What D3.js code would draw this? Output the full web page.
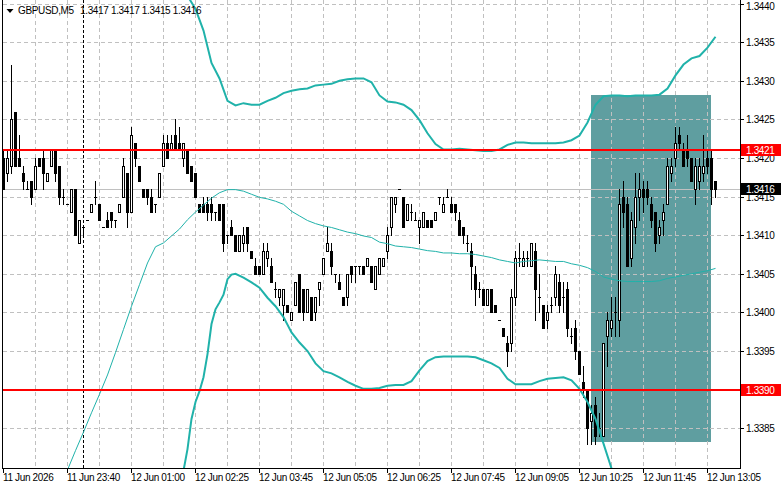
<!DOCTYPE html>
<html>
<head>
<meta charset="utf-8">
<script src="https://d3js.org/d3.v7.min.js"></script>
<style>
  body { margin: 0; background: #ffffff; }
  svg text { font-family: "Liberation Sans", Arial, sans-serif; }
</style>
</head>
<body>
<script>
// GBPUSD M5 candles, one entry per bar (bar 0 = first bar on the chart)
var opens = [
  1.3420,1.3418,1.3419,1.3426,1.3420,1.3418,1.3416,1.3417,1.3416,1.3420,
  1.3420,1.3417,1.3419,1.3421,1.3419,1.3415,1.3414,1.3413,1.3416,1.3409,
  1.3411,1.3412,1.3413,1.3415,1.3414,1.3411,1.3412,1.3413,1.3412,1.3413,
  1.3415,1.3418,1.3413,1.3422,1.3419,1.3416,1.3416,1.3415,1.3414,1.3415,
  1.3419,1.3422,1.3421,1.3423,1.3422,1.3420,1.3421,1.3419,1.3418,1.3414,
  1.3414,1.3414,1.3414,1.3413,1.3414,1.3414,1.3410,1.3411,1.3410,1.3408,
  1.3409,1.3411,1.3408,1.3406,1.3406,1.3405,1.3407,1.3406,1.3403,1.3402,
  1.3401,1.3401,1.3399,1.3401,1.3405,1.3403,1.3400,1.3402,1.3400,1.3403,
  1.3405,1.3408,1.3408,1.3405,1.3404,1.3402,1.3402,1.3406,1.3406,1.3406,
  1.3406,1.3406,1.3406,1.3403,1.3405,1.3406,1.3408,1.3411,1.3414,1.3416,
  1.3415,1.3412,1.3413,1.3412,1.3411,1.3411,1.3412,1.3412,1.3412,1.3415,
  1.3413,1.3415,1.3414,1.3414,1.3412,1.3411,1.3409,1.3408,1.3405,1.3403,
  1.3403,1.3401,1.3403,1.3401,1.3399,1.3398,1.3396,1.3396,1.3402,1.3407,
  1.3406,1.3407,1.3406,1.3408,1.3402,1.3401,1.3399,1.3401,1.3402,1.3404,
  1.3402,1.3403,1.3397,1.3398,1.3395,1.3391,1.3390,1.3386,1.3388,1.3385,
  1.3384,1.3397,1.3398,1.3400,1.3399,1.3415,1.3414,1.3407,1.3411,1.3415,
  1.3416,1.3416,1.3414,1.3413,1.3410,1.3412,1.3414,1.3418,1.3420,1.3423,
  1.3421,1.3421,1.3420,1.3416,1.3417,1.3418,1.3420,1.3420,1.3417
];
var highs = [
  1.3421,1.3421,1.3432,1.3426,1.3423,1.3419,1.3417,1.3417,1.3420,1.3420,
  1.3421,1.3418,1.3421,1.3421,1.3419,1.3416,1.3414,1.3416,1.3416,1.3412,
  1.3411,1.3412,1.3414,1.3417,1.3414,1.3411,1.3413,1.3413,1.3412,1.3414,
  1.3420,1.3418,1.3424,1.3422,1.3419,1.3416,1.3416,1.3416,1.3414,1.3418,
  1.3423,1.3423,1.3423,1.3425,1.3424,1.3422,1.3421,1.3419,1.3418,1.3414,
  1.3415,1.3415,1.3415,1.3413,1.3414,1.3414,1.3410,1.3412,1.3410,1.3410,
  1.3411,1.3411,1.3408,1.3407,1.3406,1.3409,1.3409,1.3407,1.3404,1.3403,
  1.3403,1.3401,1.3400,1.3404,1.3405,1.3403,1.3403,1.3402,1.3402,1.3404,
  1.3407,1.3411,1.3409,1.3405,1.3405,1.3402,1.3405,1.3406,1.3406,1.3406,
  1.3406,1.3407,1.3406,1.3406,1.3407,1.3407,1.3411,1.3415,1.3415,1.3416,
  1.3415,1.3414,1.3414,1.3413,1.3412,1.3413,1.3412,1.3412,1.3413,1.3415,
  1.3415,1.3416,1.3415,1.3414,1.3413,1.3411,1.3410,1.3409,1.3406,1.3404,
  1.3403,1.3403,1.3403,1.3401,1.3399,1.3398,1.3397,1.3403,1.3408,1.3409,
  1.3408,1.3408,1.3409,1.3409,1.3405,1.3401,1.3401,1.3402,1.3406,1.3405,
  1.3404,1.3404,1.3398,1.3399,1.3395,1.3393,1.3390,1.3388,1.3389,1.3387,
  1.3396,1.3400,1.3402,1.3402,1.3416,1.3417,1.3415,1.3413,1.3418,1.3418,
  1.3417,1.3417,1.3415,1.3413,1.3412,1.3414,1.3420,1.3420,1.3424,1.3424,
  1.3422,1.3423,1.3420,1.3420,1.3420,1.3423,1.3421,1.3421,1.3417
];
var lows = [
  1.3416,1.3417,1.3418,1.3419,1.3419,1.3416,1.3416,1.3414,1.3416,1.3419,
  1.3416,1.3417,1.3419,1.3417,1.3414,1.3414,1.3414,1.3413,1.3410,1.3409,
  1.3410,1.3412,1.3413,1.3414,1.3412,1.3411,1.3411,1.3411,1.3411,1.3413,
  1.3415,1.3411,1.3413,1.3419,1.3417,1.3415,1.3414,1.3413,1.3413,1.3415,
  1.3419,1.3420,1.3421,1.3421,1.3421,1.3419,1.3418,1.3417,1.3415,1.3413,
  1.3413,1.3412,1.3412,1.3412,1.3412,1.3408,1.3409,1.3410,1.3408,1.3408,
  1.3408,1.3408,1.3407,1.3405,1.3405,1.3405,1.3406,1.3404,1.3402,1.3401,
  1.3399,1.3400,1.3399,1.3401,1.3400,1.3399,1.3400,1.3399,1.3399,1.3401,
  1.3405,1.3408,1.3405,1.3404,1.3403,1.3401,1.3401,1.3404,1.3404,1.3405,
  1.3405,1.3406,1.3404,1.3403,1.3405,1.3406,1.3407,1.3410,1.3413,1.3416,
  1.3411,1.3412,1.3412,1.3412,1.3409,1.3411,1.3411,1.3411,1.3412,1.3414,
  1.3413,1.3415,1.3413,1.3412,1.3410,1.3409,1.3408,1.3403,1.3401,1.3402,
  1.3401,1.3401,1.3400,1.3400,1.3399,1.3397,1.3393,1.3395,1.3401,1.3406,
  1.3406,1.3406,1.3406,1.3399,1.3400,1.3398,1.3398,1.3400,1.3401,1.3400,
  1.3400,1.3397,1.3396,1.3394,1.3392,1.3389,1.3383,1.3383,1.3383,1.3384,
  1.3384,1.3393,1.3397,1.3397,1.3397,1.3411,1.3406,1.3406,1.3409,1.3412,
  1.3413,1.3414,1.3411,1.3408,1.3409,1.3410,1.3414,1.3417,1.3419,1.3421,
  1.3419,1.3419,1.3417,1.3414,1.3416,1.3417,1.3418,1.3414,1.3415
];
var closes = [
  1.3416,1.3420,1.3425,1.3419,1.3419,1.3417,1.3416,1.3415,1.3419,1.3419,
  1.3418,1.3418,1.3421,1.3418,1.3415,1.3415,1.3414,1.3416,1.3410,1.3412,
  1.3411,1.3412,1.3414,1.3415,1.3412,1.3411,1.3411,1.3412,1.3412,1.3414,
  1.3419,1.3413,1.3423,1.3420,1.3417,1.3415,1.3415,1.3413,1.3414,1.3418,
  1.3422,1.3420,1.3422,1.3421,1.3421,1.3422,1.3418,1.3417,1.3415,1.3413,
  1.3413,1.3413,1.3413,1.3413,1.3412,1.3409,1.3410,1.3410,1.3408,1.3410,
  1.3410,1.3409,1.3407,1.3405,1.3405,1.3408,1.3408,1.3404,1.3403,1.3403,
  1.3403,1.3400,1.3400,1.3404,1.3400,1.3400,1.3403,1.3399,1.3402,1.3404,
  1.3407,1.3409,1.3406,1.3405,1.3403,1.3401,1.3405,1.3405,1.3406,1.3406,
  1.3405,1.3407,1.3404,1.3406,1.3407,1.3407,1.3410,1.3415,1.3415,1.3416,
  1.3411,1.3414,1.3413,1.3412,1.3412,1.3413,1.3411,1.3411,1.3413,1.3415,
  1.3414,1.3415,1.3413,1.3413,1.3410,1.3410,1.3409,1.3406,1.3403,1.3403,
  1.3401,1.3403,1.3400,1.3400,1.3399,1.3397,1.3395,1.3402,1.3407,1.3407,
  1.3407,1.3407,1.3409,1.3403,1.3402,1.3398,1.3400,1.3401,1.3405,1.3401,
  1.3402,1.3398,1.3397,1.3395,1.3392,1.3390,1.3385,1.3387,1.3384,1.3385,
  1.3396,1.3399,1.3399,1.3400,1.3414,1.3413,1.3406,1.3412,1.3415,1.3416,
  1.3415,1.3415,1.3412,1.3409,1.3411,1.3413,1.3419,1.3419,1.3422,1.3422,
  1.3419,1.3420,1.3417,1.3419,1.3419,1.3419,1.3419,1.3416,1.3416
];

// Bollinger bands, sampled at bar numbers
var upperBars = d3.range(46, 179, 2);
var upperBand = [
  1.34410,1.34393,1.34365,1.34323,1.34303,1.34274,1.34268,1.34271,1.34269,1.34269,
  1.34274,1.34278,1.34284,1.34287,1.34289,1.34290,1.34294,1.34295,1.34296,1.34300,
  1.34302,1.34303,1.34303,1.34298,1.34281,1.34273,1.34272,1.34269,1.34262,1.34249,
  1.34232,1.34218,1.34211,1.34211,1.34212,1.34211,1.34210,1.34209,1.34209,1.34211,
  1.34217,1.34220,1.34220,1.34219,1.34219,1.34219,1.34219,1.34220,1.34223,1.34229,
  1.34246,1.34269,1.34280,1.34281,1.34281,1.34280,1.34281,1.34281,1.34281,1.34282,
  1.34290,1.34307,1.34321,1.34329,1.34332,1.34343,1.34357
];
var middleBars = d3.range(16, 179, 2);
var middleBand = [
  1.33796,1.33821,1.33845,1.33870,1.33894,1.33919,1.33948,1.33978,1.34008,1.34036,
  1.34064,1.34085,1.34090,1.34099,1.34108,1.34120,1.34130,1.34139,1.34148,1.34155,
  1.34159,1.34159,1.34157,1.34153,1.34149,1.34147,1.34144,1.34140,1.34131,1.34125,
  1.34119,1.34115,1.34112,1.34110,1.34107,1.34104,1.34102,1.34099,1.34097,1.34091,
  1.34089,1.34086,1.34085,1.34084,1.34082,1.34080,1.34079,1.34077,1.34077,1.34076,
  1.34076,1.34075,1.34073,1.34071,1.34068,1.34066,1.34064,1.34066,1.34067,1.34068,
  1.34067,1.34066,1.34066,1.34063,1.34061,1.34058,1.34053,1.34046,1.34043,1.34041,
  1.34040,1.34040,1.34040,1.34040,1.34041,1.34044,1.34046,1.34048,1.34050,1.34052,
  1.34054,1.34057
];
var lowerBars = [45,46,47,48,49,50,51,52,53,54,55,56,57,58].concat(d3.range(60, 153, 2));
var lowerBand = [
  1.33795,1.33823,1.33862,1.33884,1.33898,1.33916,1.33946,1.33985,1.34004,1.34013,
  1.34023,1.34043,1.34049,1.34050,1.34045,1.34039,1.34032,1.34019,1.34008,1.33994,
  1.33974,1.33961,1.33950,1.33934,1.33924,1.33921,1.33916,1.33910,1.33905,1.33901,
  1.33901,1.33902,1.33905,1.33906,1.33906,1.33911,1.33925,1.33937,1.33942,1.33943,
  1.33943,1.33943,1.33943,1.33942,1.33938,1.33934,1.33928,1.33914,1.33907,1.33907,
  1.33907,1.33911,1.33914,1.33915,1.33916,1.33912,1.33901,1.33884,1.33862,1.33830,
  1.33798
];

// axes
var priceTicks = [1.3385,1.3390,1.3395,1.3400,1.3405,1.3410,1.3415,1.3420,1.3425,1.3430,1.3435,1.3440];
var timeBars = [0,16,32,48,64,80,96,112,128,144,160,176];
var timeLabels = ["11 Jun 2026","11 Jun 23:40","12 Jun 01:00","12 Jun 02:25","12 Jun 03:45",
  "12 Jun 05:05","12 Jun 06:25","12 Jun 07:45","12 Jun 09:05","12 Jun 10:25","12 Jun 11:45","12 Jun 13:05"];

// objects on the chart
var levels = [1.3421, 1.3390];
var bidPrice = 1.3416;
var boxBars = [147, 177];
var boxPrices = [1.33832, 1.34281];
var separatorBar = 20;

var W = 781, H = 489, plotRight = 740, plotBottom = 468;
var fontSize = "10px", spacing = "-0.35px";

var svg = d3.select("body").append("svg")
  .attr("width", W).attr("height", H)
  .style("display", "block");

svg.append("rect").attr("width", W).attr("height", H).attr("fill", "#ffffff");

var x = d3.scaleLinear().domain([0, 178]).range([3.5, 715.5]);
var y = d3.scaleLinear().domain([1.337985, 1.344046]).range([plotBottom, 0]);
var py = function(p) { return Math.round(y(p)); };

svg.append("clipPath").attr("id", "plot")
  .append("rect").attr("x", 3).attr("y", 0).attr("width", plotRight - 3).attr("height", plotBottom);

var plot = svg.append("g").attr("clip-path", "url(#plot)");

// rectangle object (background)
plot.append("rect")
  .attr("x", Math.floor(x(boxBars[0])))
  .attr("y", py(boxPrices[1]))
  .attr("width", Math.round(x(boxBars[1]) - x(boxBars[0])))
  .attr("height", py(boxPrices[0]) - py(boxPrices[1]))
  .attr("fill", "#5f9ea0");

// grid
plot.selectAll(".hgrid").data(priceTicks).enter().append("line")
  .attr("x1", 3).attr("x2", plotRight)
  .attr("y1", function(d) { return py(d) + 0.5; })
  .attr("y2", function(d) { return py(d) + 0.5; })
  .attr("stroke", "#c0c0c0").attr("stroke-dasharray", "4,3");

plot.selectAll(".vgrid").data(d3.range(8, 179, 8)).enter().append("line")
  .attr("x1", function(d) { return x(d); }).attr("x2", function(d) { return x(d); })
  .attr("y1", 0).attr("y2", plotBottom)
  .attr("stroke", "#c0c0c0").attr("stroke-dasharray", "4,3");

// day separator
plot.append("line")
  .attr("x1", x(separatorBar)).attr("x2", x(separatorBar))
  .attr("y1", 0).attr("y2", plotBottom)
  .attr("stroke", "#000").attr("stroke-dasharray", "3,2");

// bid line
plot.append("line")
  .attr("x1", 3).attr("x2", plotRight)
  .attr("y1", py(bidPrice) + 0.5).attr("y2", py(bidPrice) + 0.5)
  .attr("stroke", "#c0c0c0");

// candles
var bars = d3.range(opens.length);
var candle = plot.selectAll(".candle").data(bars).enter().append("g");

candle.append("line")
  .attr("x1", function(i) { return x(i); }).attr("x2", function(i) { return x(i); })
  .attr("y1", function(i) { return py(highs[i]); })
  .attr("y2", function(i) { return py(lows[i]) + 1; })
  .attr("stroke", "#000");

candle.each(function(i) {
  var g = d3.select(this);
  var o = opens[i], c = closes[i];
  var top = py(Math.max(o, c)), bot = py(Math.min(o, c));
  var cx = x(i);
  if (Math.abs(o - c) < 1e-7) {
    g.append("line").attr("x1", cx - 1.5).attr("x2", cx + 1.5)
      .attr("y1", top + 0.5).attr("y2", top + 0.5).attr("stroke", "#000");
  } else if (c < o) {
    g.append("rect").attr("x", cx - 1.5).attr("width", 3)
      .attr("y", top).attr("height", bot - top + 1).attr("fill", "#000");
  } else {
    g.append("rect").attr("x", cx - 1).attr("width", 2)
      .attr("y", top + 0.5).attr("height", bot - top)
      .attr("fill", "#fff").attr("stroke", "#000");
  }
});

// Bollinger bands
var line = d3.line()
  .x(function(d) { return x(d[0]); })
  .y(function(d) { return y(d[1]); });

function band(bars, vals, w) {
  plot.append("path")
    .datum(d3.zip(bars, vals))
    .attr("d", line)
    .attr("fill", "none")
    .attr("stroke", "#20b2aa")
    .attr("stroke-width", w);
}
band(upperBars, upperBand, 2);
band(middleBars, middleBand, 1);
band(lowerBars, lowerBand, 2);

// horizontal levels
plot.selectAll(".level").data(levels).enter().append("line")
  .attr("x1", 3).attr("x2", plotRight)
  .attr("y1", function(d) { return py(d); })
  .attr("y2", function(d) { return py(d); })
  .attr("stroke", "#ff0000").attr("stroke-width", 2);

// frame
svg.append("line").attr("x1", 2.5).attr("x2", 2.5).attr("y1", 0).attr("y2", plotBottom + 0.5).attr("stroke", "#000");
svg.append("line").attr("x1", 2).attr("x2", plotRight + 1).attr("y1", plotBottom + 0.5).attr("y2", plotBottom + 0.5).attr("stroke", "#000");
svg.append("line").attr("x1", plotRight + 0.5).attr("x2", plotRight + 0.5).attr("y1", 0).attr("y2", plotBottom + 1).attr("stroke", "#000");

// price axis
var pa = svg.append("g");
pa.selectAll("line").data(priceTicks).enter().append("line")
  .attr("x1", plotRight + 1).attr("x2", plotRight + 4)
  .attr("y1", function(d) { return py(d) + 0.5; })
  .attr("y2", function(d) { return py(d) + 0.5; })
  .attr("stroke", "#000");
pa.selectAll("text").data(priceTicks).enter().append("text")
  .attr("x", 746)
  .attr("y", function(d) { return Math.max(py(d), 6) + 3.5; })
  .attr("font-size", fontSize)
  .attr("letter-spacing", spacing)
  .attr("fill", "#000")
  .text(function(d) { return d.toFixed(4); });

// price labels of the levels and the bid
function priceBox(p, bg) {
  var cy = py(p);
  svg.append("rect").attr("x", plotRight + 1).attr("y", cy - 6)
    .attr("width", W - plotRight - 1).attr("height", 12).attr("fill", bg);
  svg.append("text").attr("x", 746).attr("y", cy + 3.5)
    .attr("font-size", fontSize).attr("letter-spacing", spacing)
    .attr("fill", "#fff").text(p.toFixed(4));
}
levels.forEach(function(p) { priceBox(p, "#ff0000"); });
priceBox(bidPrice, "#000");

// time axis
var ta = svg.append("g");
ta.selectAll("line").data(timeBars).enter().append("line")
  .attr("x1", function(d) { return x(d); }).attr("x2", function(d) { return x(d); })
  .attr("y1", plotBottom + 1).attr("y2", plotBottom + 5)
  .attr("stroke", "#000");
ta.selectAll("text").data(timeBars).enter().append("text")
  .attr("x", function(d) { return x(d) - 0.5; })
  .attr("y", 481)
  .attr("font-size", fontSize)
  .attr("letter-spacing", spacing)
  .attr("fill", "#000")
  .text(function(d, k) { return timeLabels[k]; });

// header
var last = opens.length - 1;
svg.append("path").attr("d", "M6.5,9 L13.5,9 L10,13 Z").attr("fill", "#000");
svg.append("text").attr("x", 18).attr("y", 14)
  .attr("font-size", fontSize).attr("letter-spacing", spacing).attr("fill", "#000")
  .text("GBPUSD,M5");
svg.append("text").attr("x", 80).attr("y", 14)
  .attr("font-size", fontSize).attr("letter-spacing", spacing).attr("fill", "#000")
  .text([opens[last], highs[last], lows[last], closes[last]].map(function(v) { return v.toFixed(4); }).join(" "));
</script>
</body>
</html>
